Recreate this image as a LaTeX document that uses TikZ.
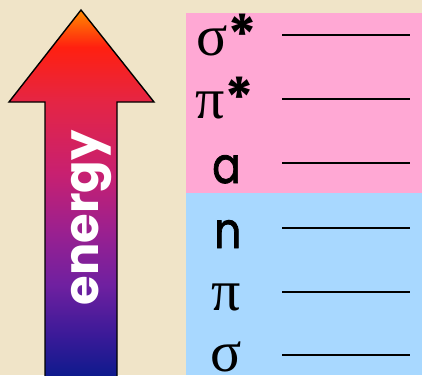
\documentclass[tikz,border=0pt]{standalone}
\usepackage{fontspec}
\setmainfont{Liberation Serif}
\newfontfamily\roundfont{Poppins}
\newfontfamily\roundheavy{Poppins}[FakeBold=1.6]
\usepackage{tikz}
\usetikzlibrary{positioning}
\definecolor{bgbeige}{RGB}{240,228,200}
\definecolor{antipink}{RGB}{255,168,212}
\definecolor{bondblue}{RGB}{168,216,255}
\pgfdeclareverticalshading{energyshade}{100bp}{%
  color(0bp)=(rgb,255:red,10;green,26;blue,140);
  color(25bp)=(rgb,255:red,10;green,26;blue,140);
  color(31bp)=(rgb,255:red,58;green,26;blue,152);
  color(38bp)=(rgb,255:red,112;green,32;blue,160);
  color(45bp)=(rgb,255:red,154;green,32;blue,144);
  color(53bp)=(rgb,255:red,200;green,32;blue,112);
  color(62.5bp)=(rgb,255:red,228;green,37;blue,69);
  color(70bp)=(rgb,255:red,255;green,32;blue,16);
  color(75bp)=(rgb,255:red,255;green,138;blue,0);
  color(100bp)=(rgb,255:red,255;green,138;blue,0)}
\newcommand{\orbstar}{{\roundfont\bfseries\fontsize{56}{56}\selectfont *}}
\tikzset{
  levelline/.style={line width=1.3pt},
  levellabel/.style={anchor=base west, inner sep=0pt, font=\fontsize{58}{58}\selectfont},
  orblabel/.style={anchor=base west, inner sep=0pt, xscale=0.85, font=\roundheavy\fontsize{50}{50}\selectfont},
  energyarrow/.style={draw=black, line width=1.4pt, line join=miter, shading=energyshade}
}
\begin{document}
\begin{tikzpicture}[x=1pt,y=-1pt]
  \useasboundingbox (0,0) rectangle (422,375);
  \fill[bgbeige] (0,0) rectangle (422,375);
  \fill[antipink] (186,13) rectangle (422,193);
  \fill[bondblue] (186,193) rectangle (422,375);
  % energy arrow
  \path[energyarrow] (81,10) -- (154,102) -- (117,102) -- (117,380)
    -- (45,380) -- (45,102) -- (9,102) -- cycle;
  \node[rotate=90, text=white, inner sep=0pt, font=\roundfont\bfseries\fontsize{48}{48}\selectfont] (energy) at (92,218) {energy};
  % orbital labels
  \node[levellabel] (sigmastar) at (196,55) {σ\orbstar};
  \node[levellabel] (pistar) at (195,118) {π\orbstar};
  \node[orblabel] (nonbond) at (212,183) {a};
  \node[orblabel] (lonepair) at (214,248) {n};
  \node[levellabel] (pibond) at (211,310) {π};
  \node[levellabel] (sigmabond) at (210,371) {σ};
  % level lines
  \foreach \y in {35,99,163,228,292,355}
    \draw[levelline] (282,\y) -- (410,\y);
\end{tikzpicture}
\end{document}
